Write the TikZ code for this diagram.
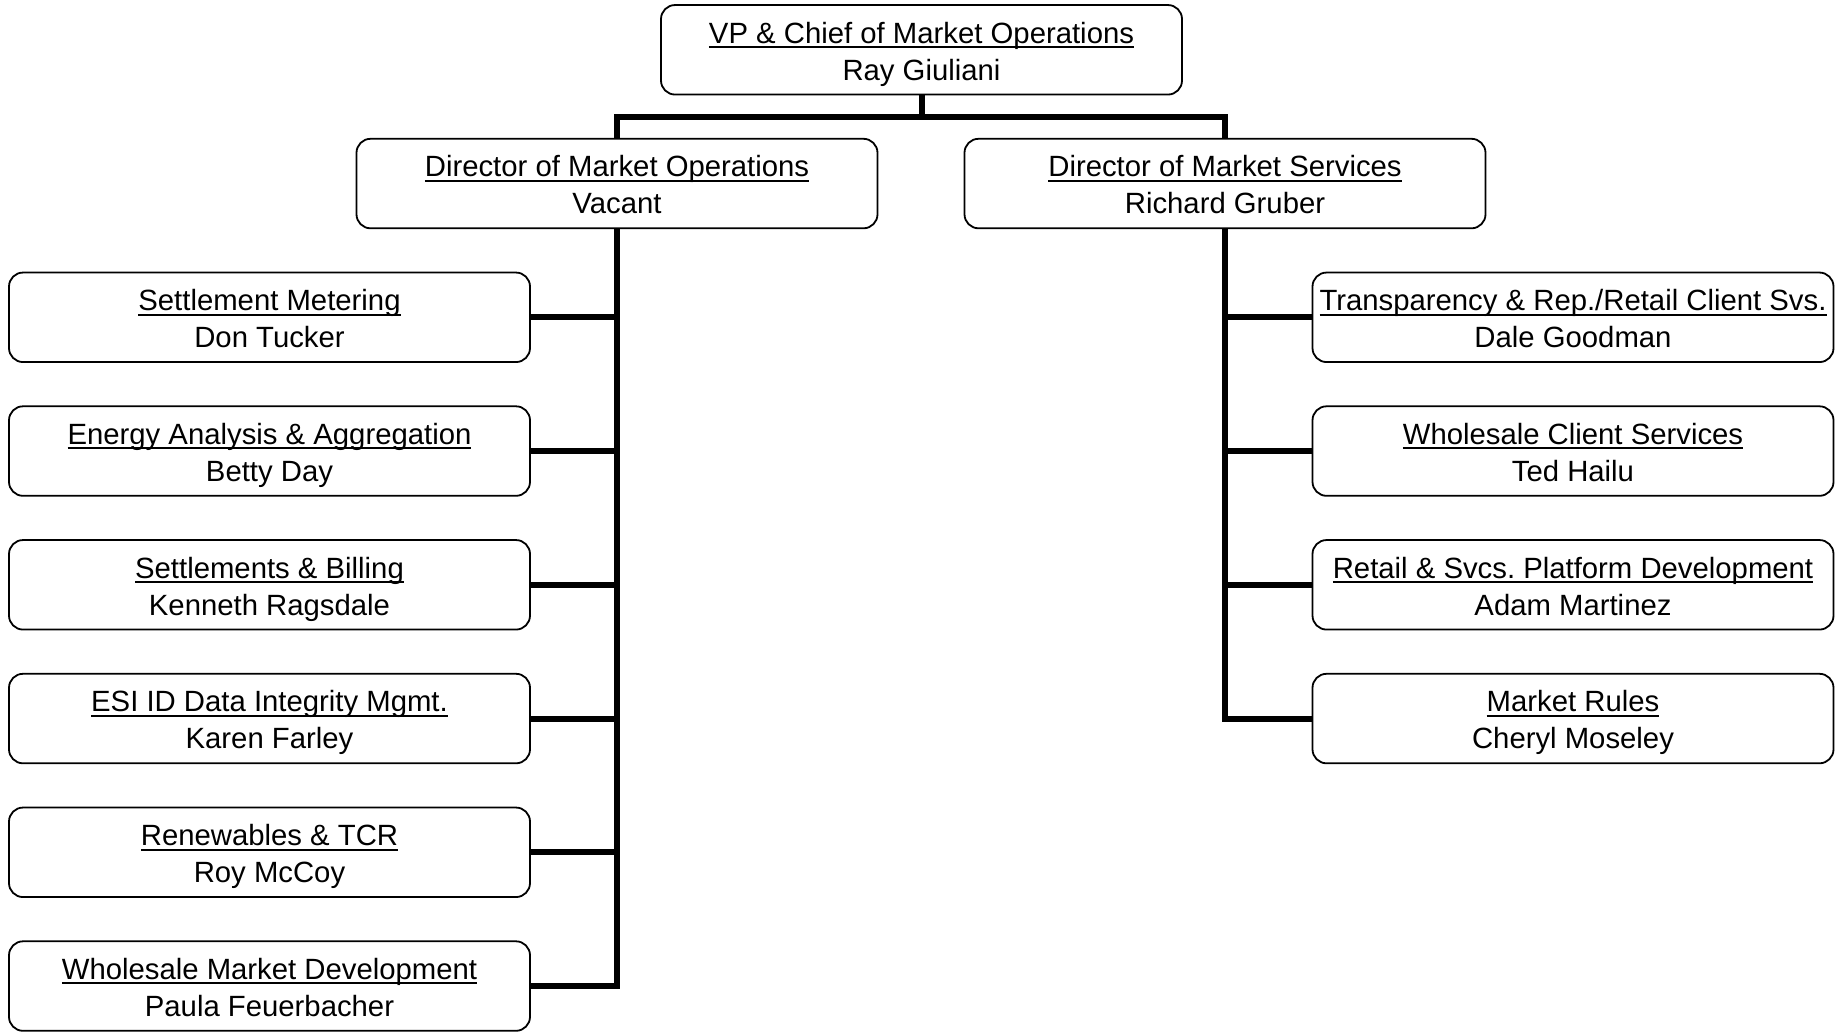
\documentclass[tikz,border=0pt]{standalone}
\usepackage{fontspec}
\setmainfont{Liberation Sans}
\frenchspacing
\newcommand\ulx[1]{\setbox0\hbox{#1}\rule{0pt}{30.4pt}\rlap{\rule[-5pt]{\wd0}{1.8pt}}\box0}
\newcommand\nmx[1]{#1\rule[-7pt]{0pt}{7pt}}
\begin{document}
\begin{tikzpicture}[x=1pt,y=1pt,
  box/.style={draw=black, line width=1.8pt, rounded corners=14pt, minimum width=521pt, minimum height=89.5pt,
    inner sep=0pt, align=center, font=\fontsize{29.3}{37}\selectfont},
  conn/.style={line width=6pt, line join=miter}]
\useasboundingbox (0,0) rectangle (1837,-1031);
\node[box] (top) at (921.5,-49.8) {\ulx{VP \& Chief of Market Operations}\\\nmx{Ray Giuliani}};
\node[box] (dl) at (617,-183.55) {\ulx{Director of Market Operations}\\\nmx{Vacant}};
\node[box] (dr) at (1225,-183.55) {\ulx{Director of Market Services}\\\nmx{Richard Gruber}};
\node[box] (l1) at (269.5,-317.3) {\ulx{Settlement Metering}\\\nmx{Don Tucker}};
\node[box] (l2) at (269.5,-451.05) {\ulx{Energy Analysis \& Aggregation}\\\nmx{Betty Day}};
\node[box] (l3) at (269.5,-584.8) {\ulx{Settlements \& Billing}\\\nmx{Kenneth Ragsdale}};
\node[box] (l4) at (269.5,-718.55) {\ulx{ESI ID Data Integrity Mgmt.}\\\nmx{Karen Farley}};
\node[box] (l5) at (269.5,-852.3) {\ulx{Renewables \& TCR}\\\nmx{Roy McCoy}};
\node[box] (l6) at (269.5,-986.05) {\ulx{Wholesale Market Development}\\\nmx{Paula Feuerbacher}};
\node[box] (r1) at (1573,-317.3) {\ulx{Transparency \& Rep./Retail Client Svs.}\\\nmx{Dale Goodman}};
\node[box] (r2) at (1573,-451.05) {\ulx{Wholesale Client Services}\\\nmx{Ted Hailu}};
\node[box] (r3) at (1573,-584.8) {\ulx{Retail \& Svcs. Platform Development}\\\nmx{Adam Martinez}};
\node[box] (r4) at (1573,-718.55) {\ulx{Market Rules}\\\nmx{Cheryl Moseley}};
\coordinate (bar) at (0,-116.8);
\draw[conn] (top.south) -- (top.south |- bar);
\draw[conn] (dl.north) -- (dl.north |- bar) -| (dr.north);
\draw[conn] (dl.south) |- (l6.east);
\foreach \n in {l1,l2,l3,l4,l5}{\draw[conn] (\n.east) -- (\n.east -| dl.south);}
\draw[conn] (dr.south) |- (r4.west);
\foreach \n in {r1,r2,r3}{\draw[conn] (\n.west) -- (\n.west -| dr.south);}
\end{tikzpicture}
\end{document}
